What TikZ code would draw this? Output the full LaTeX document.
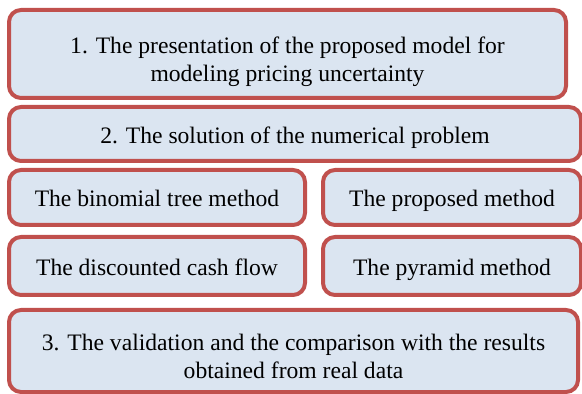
\documentclass[tikz,border=0pt]{standalone}
\usepackage{fontspec}
\setmainfont{Liberation Serif}

\definecolor{boxred}{HTML}{C0504D}
\definecolor{boxblue}{HTML}{DBE5F1}

\newcommand\lifttext{\rule{0pt}{17.5pt}}

\begin{document}
\begin{tikzpicture}[x=0.5pt, y=-0.5pt,
    box/.style={draw=boxred, fill=boxblue, line width=2pt, rounded corners=6pt,
        align=center, inner sep=0pt,
        font=\fontsize{11.8}{13.8}\selectfont,
        execute at begin node={\rule{0pt}{13.5pt}},
        execute at end node={\rule[-4.1pt]{0pt}{0pt}}}]
            % Marco
            \useasboundingbox (0,0) rectangle (582,394);

            % Pasos principales
            \node[box, minimum width=278.5pt, minimum height=44pt] (model) at (287.5,54)
                {\lifttext 1. The presentation of the proposed model for\\modeling pricing uncertainty};
            \node[box, minimum width=286pt, minimum height=27pt] (solution) at (295,134)
                {2. The solution of the numerical problem};

            % Métodos
            \node[box, minimum width=148pt, minimum height=27.5pt] (binomial) at (157,197.5)
                {The binomial tree method};
            \node[box, minimum width=129pt, minimum height=27.5pt] (proposed) at (452,197.5)
                {The proposed method};
            \node[box, minimum width=148pt, minimum height=29pt] (cashflow) at (157,266)
                {The discounted cash flow};
            \node[box, minimum width=129pt, minimum height=29pt] (pyramid) at (452,266)
                {The pyramid method};

            % Validación
            \node[box, minimum width=284.5pt, minimum height=41pt] (validation) at (293.5,351)
                {\lifttext 3. The validation and the comparison with the results\\obtained from real data};
        \end{tikzpicture}
\end{document}
